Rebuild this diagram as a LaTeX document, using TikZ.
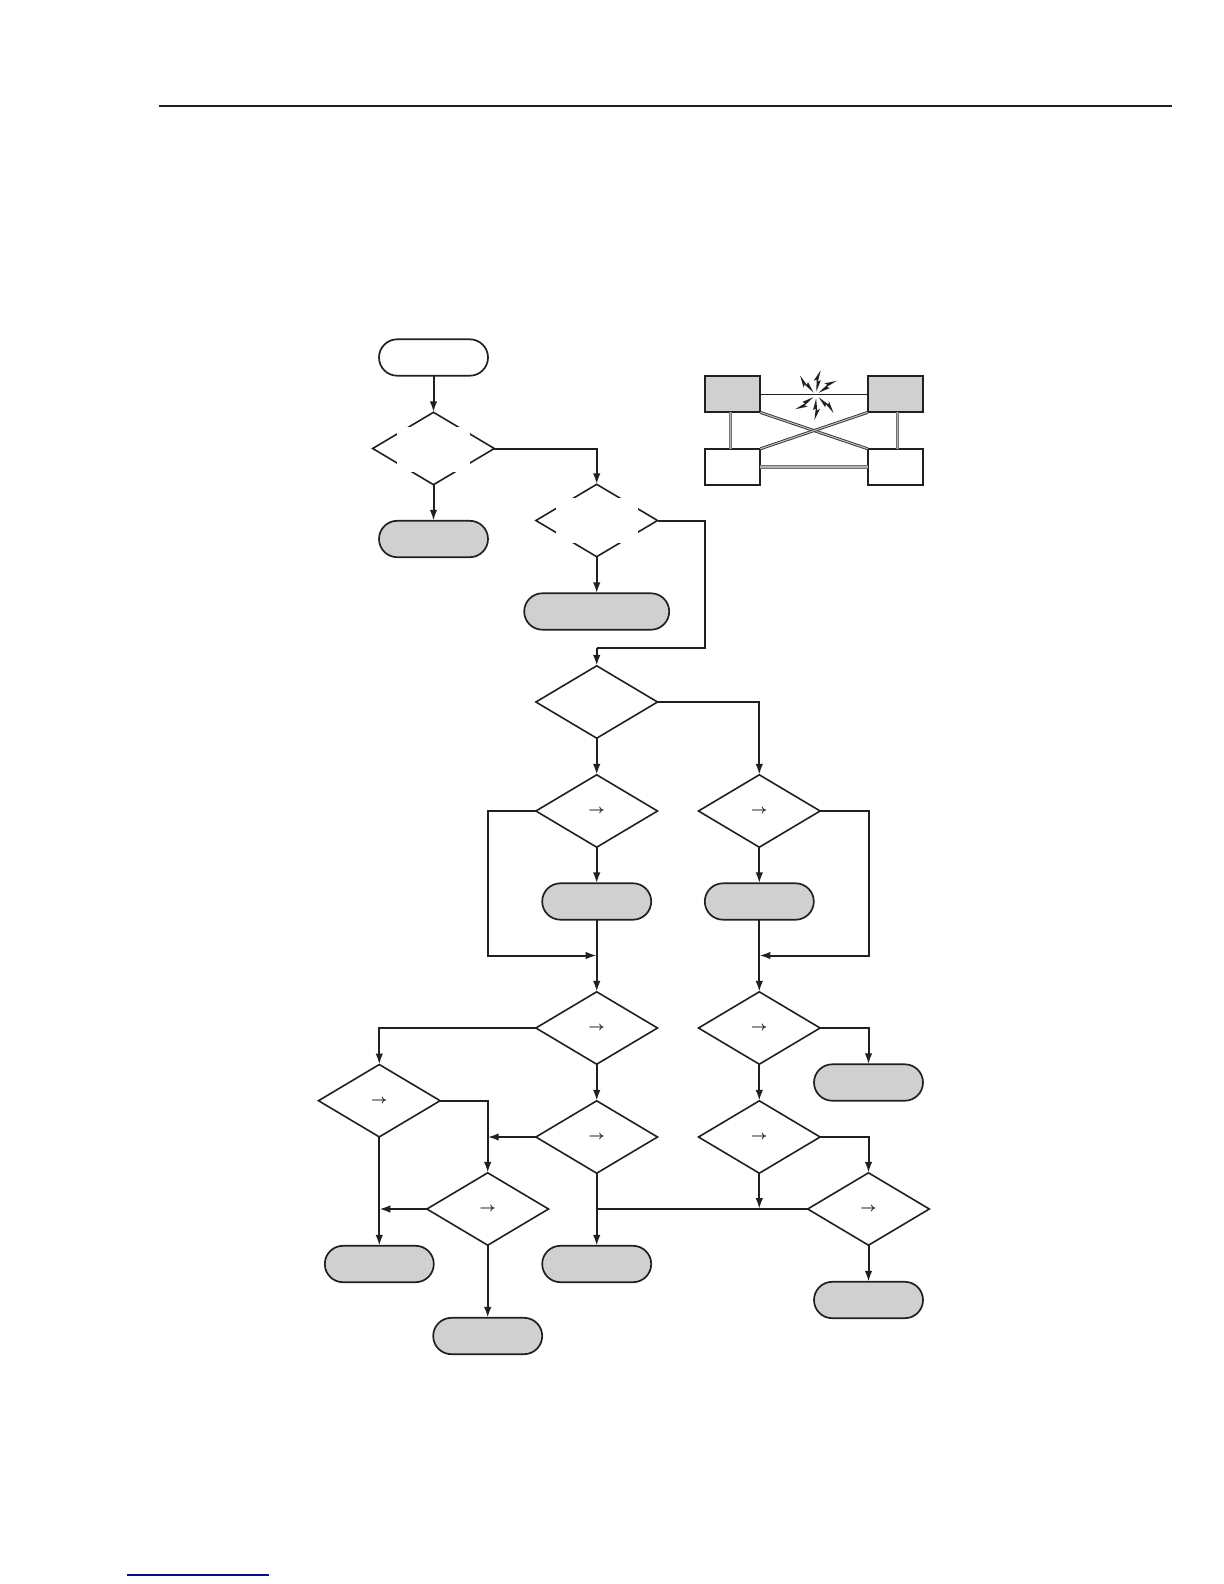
\documentclass[tikz,border=0pt]{standalone}
\usepackage{xcolor}
\usepackage{tikz}
\usetikzlibrary{calc,positioning,shapes.geometric,shapes.misc,arrows.meta}
\definecolor{tinta}{RGB}{35,31,32}
\definecolor{relleno}{RGB}{208,208,208}
\definecolor{enlace}{RGB}{10,10,150}
\newcommand{\flecha}{\raisebox{-1pt}{\boldmath$\rightarrow$}}
\tikzset{
  terminal/.style={rounded rectangle,draw=tinta,line width=.85pt,inner sep=0pt,outer sep=0pt,minimum width=54.5pt,minimum height=18.2pt},
  salida/.style={terminal,fill=relleno},
  decision/.style={diamond,draw=tinta,line width=.8pt,inner sep=0pt,outer sep=0pt,minimum width=60.8pt,minimum height=36.2pt,text=tinta,font=\fontsize{6}{6}\selectfont},
  mascara/.style={fill=white,inner sep=0pt,outer sep=0pt,minimum height=22.7pt},
  flujo/.style={draw=tinta,line width=1pt,-{Latex[length=5.5pt,width=3.8pt]}},
  linea/.style={draw=tinta,line width=1pt},
  equipo/.style={rectangle,draw=tinta,line width=1pt,inner sep=0pt,outer sep=0pt,minimum width=27.8pt,minimum height=18.2pt},
  doble/.style={draw=black!80,double=black!25,line width=.45pt,double distance=.55pt},
  dobleclara/.style={draw=black!55,double=black!30,line width=.5pt,double distance=.6pt},
}
\begin{document}
\begin{tikzpicture}[x=.5pt,y=-.5pt]
\useasboundingbox (0,0) rectangle (1224,1584);

%====================================================
% LINEAS DE PAGINA
%====================================================
\coordinate (reglaA) at (159,105.7);
\coordinate (reglaB) at (1171.7,105.7);
\coordinate (notaA) at (127.3,1575);
\coordinate (notaB) at (269,1575);
\draw[tinta,line width=1pt] (reglaA) -- (reglaB);
\draw[enlace,line width=.55pt] (notaA) -- (notaB);

%====================================================
% NODOS DEL DIAGRAMA
%====================================================
\node[terminal] (inicio) at (433.5,357.5) {};
\node[decision] (d1) at (433.5,448.5) {};
\node[mascara,minimum width=36.7pt] (m1) at (433.3,449.3) {};
\node[salida] (s1) at (433.5,539) {};
\node[decision] (d2) at (596.7,520.5) {};
\node[mascara,minimum width=41.3pt] (m2) at (597,520.3) {};
\node[salida,minimum width=72.5pt] (s2) at (596.7,611.5) {};
\node[decision] (d3) at (596.7,702) {};

\node[decision] (d4) at (596.7,811) {\flecha};
\node[decision] (d5) at (759.3,811) {\flecha};
\node[salida] (s4) at (596.7,901.5) {};
\node[salida] (s5) at (759.3,901.5) {};
\node[decision] (d6) at (596.7,1028) {\flecha};
\node[decision] (d7) at (759.3,1028) {\flecha};
\node[salida] (s7) at (868.5,1082.5) {};
\node[decision] (d8) at (379.3,1100.7) {\flecha};
\node[decision] (d9) at (596.7,1137) {\flecha};
\node[decision] (d10) at (759.3,1137) {\flecha};
\node[decision] (d11) at (487.7,1209) {\flecha};
\node[decision] (d12) at (868.5,1209) {\flecha};
\node[salida] (s8) at (379.3,1264) {};
\node[salida] (s9) at (596.7,1264) {};
\node[salida] (s11) at (487.7,1336) {};
\node[salida] (s12) at (868.5,1300) {};

\coordinate (codoA) at (705,647.5);
\coordinate (llegadaA) at (596.7,647.5);
\coordinate (lazoA) at (487.5,955.5);
\coordinate (uneA) at (596.7,955.5);
\coordinate (lazoB) at (868.5,955.5);
\coordinate (uneB) at (759.3,955.5);
\coordinate (uneC) at (487.7,1137);
\coordinate (uneD) at (379.3,1209);
\coordinate (uneE) at (759.3,1209);
\coordinate (uneF) at (596.7,1209);

%====================================================
% CONECTORES
%====================================================
\draw[flujo] (inicio) -- (d1);
\draw[flujo] (d1) -- (s1);
\draw[flujo] (d1.east) -| (d2.north);
\draw[flujo] (d2) -- (s2);
\draw[linea] (d2.east) -| (codoA) -- (llegadaA);
\draw[flujo] (llegadaA) -- (d3.north);
\draw[flujo] (d3) -- (d4);
\draw[flujo] (d3.east) -| (d5.north);
\draw[flujo] (d4) -- (s4);
\draw[flujo] (d5) -- (s5);
\draw[flujo] (d4.west) -| (lazoA) -- (uneA);
\draw[flujo] (d5.east) -| (lazoB) -- (uneB);
\draw[flujo] (s4) -- (d6);
\draw[flujo] (s5) -- (d7);
\draw[flujo] (d6) -- (d9);
\draw[flujo] (d7) -- (d10);
\draw[flujo] (d7.east) -| (s7.north);
\draw[flujo] (d6.west) -| (d8.north);
\draw[flujo] (d8.east) -| (d11.north);
\draw[flujo] (d9.west) -- (uneC);
\draw[flujo] (d11.west) -- (uneD);
\draw[flujo] (d8) -- (s8);
\draw[flujo] (d11) -- (s11);
\draw[flujo] (d9) -- (s9);
\draw[flujo] (d10.south) -- (uneE);
\draw[linea] (d12.west) -- (uneF);
\draw[flujo] (d10.east) -| (d12.north);
\draw[flujo] (d12) -- (s12);

%====================================================
% ESQUEMA DE RED
%====================================================
\node[equipo,fill=relleno] (ei) at (732.5,394.2) {};
\node[equipo,fill=relleno] (ed) at (895.5,394.2) {};
\node[equipo] (ii) at (732.5,467) {};
\node[equipo] (id) at (895.5,467) {};
\coordinate (chispa) at (816,395);
\draw[tinta,line width=.5pt] (ei) -- (ed);
\draw[dobleclara] ([xshift=-1pt]ei.south) -- ([xshift=-1pt]ii.north);
\draw[dobleclara] ([xshift=1pt]ed.south) -- ([xshift=1pt]id.north);
\draw[dobleclara] (ii) -- (id);
\draw[doble] (ei.south east) -- (id.north west);
\draw[doble] (ed.south west) -- (ii.north east);
\foreach \ang in {40,85,135,220,272,320}
  \fill[tinta,shift={(chispa)},rotate=\ang] (3.5,0) -- (15,3.5) -- (13.5,.7) -- (25,2.5) -- (14,-3.5) -- (15.5,-.7) -- cycle;
\end{tikzpicture}
\end{document}
